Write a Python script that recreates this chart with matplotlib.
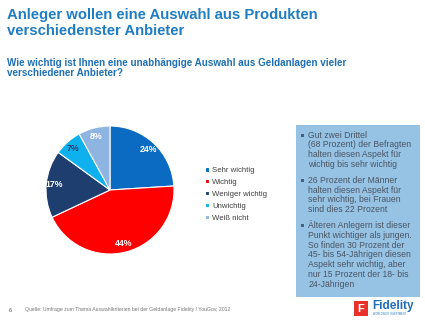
import matplotlib.pyplot as plt
from matplotlib.patches import Rectangle

plt.rcParams['font.family'] = ['Liberation Sans', 'DejaVu Sans']

# Umfragewerte
kategorien = ['Sehr wichtig', 'Wichtig', 'Weniger wichtig', 'Unwichtig', 'Weiß nicht']
anteile = [24, 44, 17, 7, 8]
farben = ['#0B6BC2', '#FF0000', '#1F3E70', '#0EB1EE', '#8EB4E2']

titel = 'Anleger wollen eine Auswahl aus Produkten\nverschiedenster Anbieter'
frage = 'Wie wichtig ist Ihnen eine unabhängige Auswahl aus Geldanlagen vieler\nverschiedener Anbieter?'
quelle = 'Quelle: Umfrage zum Thema Auswahlkriterien bei der Geldanlage Fidelity / YouGov, 2012'

punkte = [
    ['Gut zwei Drittel', '(68 Prozent) der Befragten', 'halten diesen Aspekt für',
     'wichtig bis sehr wichtig'],
    ['26 Prozent der Männer', 'halten diesen Aspekt für', 'sehr wichtig, bei Frauen',
     'sind dies 22 Prozent'],
    ['Älteren Anlegern ist dieser', 'Punkt wichtiger als jungen.', 'So finden 30 Prozent der',
     '45- bis 54-Jährigen diesen', 'Aspekt sehr wichtig, aber', 'nur 15 Prozent der 18- bis',
     '24-Jährigen'],
]

W, H = 425, 326
fig = plt.figure(figsize=(W / 100, H / 100), dpi=100)
fig.patch.set_facecolor('white')

def fx(px):
    return px / W

def fy(py):
    return 1 - py / H

# Überschriften
fig.text(fx(7), fy(7.5), titel, fontsize=10.7, fontweight='bold', color='#1F7DC2',
         va='top', ha='left', linespacing=1.2)
fig.text(fx(7), fy(58), frage, fontsize=7.1, fontweight='bold', color='#1E6FB3',
         va='top', ha='left', linespacing=1.0)

# Kreisdiagramm
ax = fig.add_axes([fx(30), fy(270), fx(160), 160 / H])
wedges, texts, autotexts = ax.pie(
    anteile, colors=farben, startangle=90, counterclock=False,
    autopct='%.0f%%', pctdistance=0.87,
    wedgeprops=dict(edgecolor='white', linewidth=0.8),
    textprops=dict(color='white', fontsize=6.3, fontweight='bold'))
autotexts[3].set_color('#1F3E70')
ax.set_aspect('equal')

ax.legend(wedges, kategorien, loc='upper left', bbox_to_anchor=(fx(201), fy(163)),
          bbox_transform=fig.transFigure, frameon=False, fontsize=5.6,
          handlelength=0.55, handleheight=0.55, handletextpad=0.35,
          labelspacing=0.62, labelcolor='#404040', borderpad=0)

# Textbox rechts
fig.patches.append(Rectangle((fx(296), fy(297)), fx(124), (297 - 125) / H,
                             transform=fig.transFigure, facecolor='#96C2E4',
                             edgecolor='none'))
y = 135
for absatz in punkte:
    # Aufzählungszeichen als kleines Quadrat
    fig.patches.append(Rectangle((fx(301), fy(y + 1.5)), fx(3), 3 / H,
                                 transform=fig.transFigure, facecolor='#4A5F78',
                                 edgecolor='none'))
    for zeile in absatz:
        fig.text(fx(308.5), fy(y), zeile, fontsize=6.2, color='#4A5563',
                 va='center', ha='left')
        y += 9.8
    y += 6

# Fußzeile
fig.text(fx(9), fy(310), '6', fontsize=4, color='#555555', va='center')
fig.text(fx(25), fy(309), quelle, fontsize=3.7, color='#777777', va='center')

# Logo
fig.patches.append(Rectangle((fx(354), fy(316)), fx(14), 15 / H,
                             transform=fig.transFigure, facecolor='#E8312A',
                             edgecolor='none'))
fig.text(fx(361), fy(308.5), 'F', fontsize=8, fontweight='bold', color='white',
         ha='center', va='center')
fig.text(fx(372), fy(306), 'Fidelity', fontsize=8.5, fontweight='bold', color='#1E6FB8',
         ha='left', va='center')
fig.text(fx(373), fy(314), 'WORLDWIDE INVESTMENT', fontsize=1.8, color='#1E6FB8',
         ha='left', va='center')

fig.savefig('out.png', dpi=100)
